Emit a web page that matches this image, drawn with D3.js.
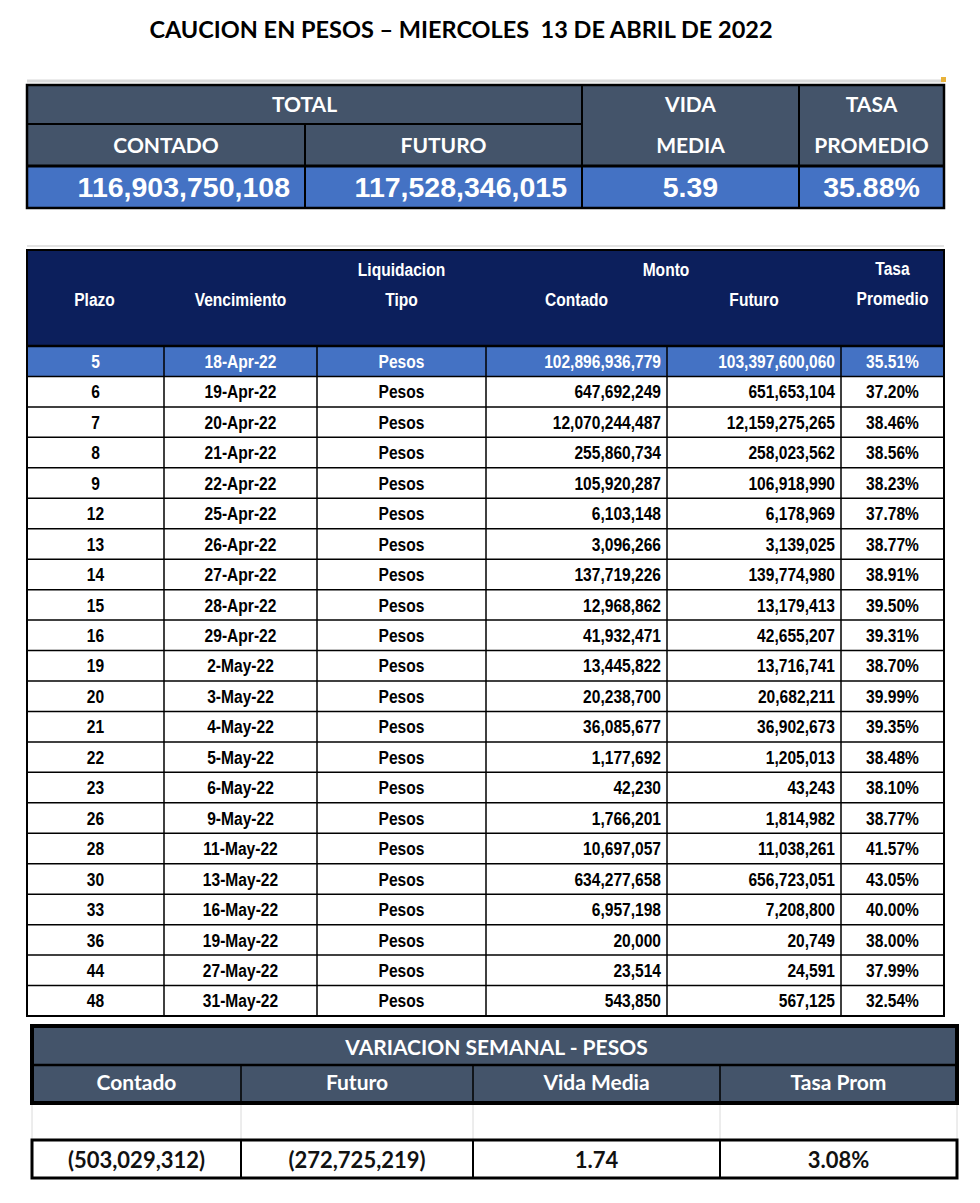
<!DOCTYPE html>
<html>
<head>
<meta charset="utf-8">
<script src="https://cdn.jsdelivr.net/npm/d3@7"></script>
<style>
  body { margin: 0; background: #fff; }
  svg { display: block; }
</style>
</head>
<body>
<svg id="chart" width="980" height="1203"></svg>
<script>
// ---- Data ----
const titleText = "CAUCION EN PESOS \u2013 MIERCOLES  13 DE ABRIL DE 2022";

// summary table
const totalHeaders = ["CONTADO", "FUTURO"];
const totalValues = ["116,903,750,108", "117,528,346,015", "5.39", "35.88%"];

// detail table
const plazo = [5, 6, 7, 8, 9, 12, 13, 14, 15, 16, 19, 20, 21, 22, 23, 26, 28, 30, 33, 36, 44, 48];
const vencimiento = ["18-Apr-22", "19-Apr-22", "20-Apr-22", "21-Apr-22", "22-Apr-22", "25-Apr-22",
  "26-Apr-22", "27-Apr-22", "28-Apr-22", "29-Apr-22", "2-May-22", "3-May-22", "4-May-22",
  "5-May-22", "6-May-22", "9-May-22", "11-May-22", "13-May-22", "16-May-22", "19-May-22",
  "27-May-22", "31-May-22"];
const tipo = plazo.map(() => "Pesos");
const montoContado = [102896936779, 647692249, 12070244487, 255860734, 105920287, 6103148,
  3096266, 137719226, 12968862, 41932471, 13445822, 20238700, 36085677, 1177692, 42230,
  1766201, 10697057, 634277658, 6957198, 20000, 23514, 543850];
const montoFuturo = [103397600060, 651653104, 12159275265, 258023562, 106918990, 6178969,
  3139025, 139774980, 13179413, 42655207, 13716741, 20682211, 36902673, 1205013, 43243,
  1814982, 11038261, 656723051, 7208800, 20749, 24591, 567125];
const tasaPromedio = [35.51, 37.20, 38.46, 38.56, 38.23, 37.78, 38.77, 38.91, 39.50, 39.31,
  38.70, 39.99, 39.35, 38.48, 38.10, 38.77, 41.57, 43.05, 40.00, 38.00, 37.99, 32.54];

// weekly variation table
const variacionHeaders = ["Contado", "Futuro", "Vida Media", "Tasa Prom"];
const variacionValues = ["(503,029,312)", "(272,725,219)", "1.74", "3.08%"];

// ---- Styles ----
const slate = "#44546A";
const navy = "#0C1F5C";
const blue = "#4472C4";
const arial = "'Liberation Sans', Arial, sans-serif";
const calibri = "Lato, 'Open Sans', sans-serif";

const svg = d3.select("#chart");
const fmt = d3.format(",");
const pct = d3.format(".2f");

// Arial Narrow is Arial squeezed to 82%
function narrowText(g, x, y, txt, anchor, size, color) {
  g.append("text")
    .attr("transform", "translate(" + x + "," + y + ") scale(0.82,1)")
    .attr("text-anchor", anchor)
    .attr("dy", "0.35em")
    .style("font-family", arial)
    .style("font-weight", "bold")
    .style("font-size", size + "px")
    .style("fill", color)
    .text(txt);
}

function plainText(g, x, y, txt, family, size, color) {
  return g.append("text")
    .attr("x", x)
    .attr("y", y)
    .attr("dy", "0.35em")
    .attr("text-anchor", "middle")
    .style("font-family", family)
    .style("font-weight", "bold")
    .style("font-size", size + "px")
    .style("fill", color)
    .text(txt);
}

function line(g, x1, y1, x2, y2, w, color) {
  g.append("line")
    .attr("x1", x1).attr("y1", y1).attr("x2", x2).attr("y2", y2)
    .style("stroke", color || "#000")
    .style("stroke-width", w);
}

// ---- Title ----
plainText(svg, 461, 30, titleText, calibri, 23.5, "#000")
  .style("white-space", "pre");

// ---- Summary table ----
let topG = svg.append("g");
let topCols = [27, 305, 582, 799, 944];
let topRows = [85, 124, 166, 208];

// faint sheet gridline above
line(topG, 27, 81, 944, 81, 3, "#DADADA");
topG.append("rect").attr("x", 941).attr("y", 77).attr("width", 5).attr("height", 5).style("fill", "#E8B23A");

topG.append("rect").attr("x", topCols[0]).attr("y", topRows[0])
  .attr("width", topCols[4] - topCols[0]).attr("height", topRows[2] - topRows[0])
  .style("fill", slate);
topG.append("rect").attr("x", topCols[0]).attr("y", topRows[2])
  .attr("width", topCols[4] - topCols[0]).attr("height", topRows[3] - topRows[2])
  .style("fill", blue);

plainText(topG, (topCols[0] + topCols[2]) / 2, 105, "TOTAL", calibri, 21, "#fff");
totalHeaders.forEach(function(h, i) {
  plainText(topG, (topCols[i] + topCols[i + 1]) / 2, 146, h, calibri, 21, "#fff");
});
plainText(topG, (topCols[2] + topCols[3]) / 2, 105, "VIDA", calibri, 21, "#fff");
plainText(topG, (topCols[2] + topCols[3]) / 2, 146, "MEDIA", calibri, 21, "#fff");
plainText(topG, (topCols[3] + topCols[4]) / 2, 105, "TASA", calibri, 21, "#fff");
plainText(topG, (topCols[3] + topCols[4]) / 2, 146, "PROMEDIO", calibri, 21, "#fff");

totalValues.forEach(function(v, i) {
  let right = i < 2;
  topG.append("text")
    .attr("x", right ? topCols[i + 1] - 15 : (topCols[i] + topCols[i + 1]) / 2)
    .attr("y", 187)
    .attr("dy", "0.35em")
    .attr("text-anchor", right ? "end" : "middle")
    .style("font-family", arial)
    .style("font-weight", "bold")
    .style("font-size", "28.5px")
    .style("fill", "#fff")
    .text(v);
});

line(topG, topCols[0], topRows[1], topCols[2], topRows[1], 2);
line(topG, topCols[0], topRows[2], topCols[4], topRows[2], 3);
line(topG, topCols[1], topRows[1], topCols[1], topRows[3], 2);
line(topG, topCols[2], topRows[0], topCols[2], topRows[3], 2);
line(topG, topCols[3], topRows[0], topCols[3], topRows[3], 2);
topG.append("rect").attr("x", topCols[0]).attr("y", topRows[0])
  .attr("width", topCols[4] - topCols[0]).attr("height", topRows[3] - topRows[0])
  .style("fill", "none").style("stroke", "#000").style("stroke-width", 2.5);

// ---- Detail table ----
let main = svg.append("g");
let cols = [27, 164, 317, 486, 667, 841, 944];
let headTop = 250, headBottom = 345;

let y = d3.scaleBand()
  .domain(d3.range(plazo.length))
  .range([346, 1016]);

line(main, 27, 246, 944, 246, 1.5, "#DADADA");

main.append("rect").attr("x", cols[0]).attr("y", headTop)
  .attr("width", cols[6] - cols[0]).attr("height", headBottom - headTop)
  .style("fill", navy);

narrowText(main, (cols[0] + cols[1]) / 2 - 1, 299, "Plazo", "middle", 19, "#fff");
narrowText(main, (cols[1] + cols[2]) / 2, 299, "Vencimiento", "middle", 19, "#fff");
narrowText(main, (cols[2] + cols[3]) / 2, 269, "Liquidacion", "middle", 19, "#fff");
narrowText(main, (cols[2] + cols[3]) / 2, 299, "Tipo", "middle", 19, "#fff");
narrowText(main, cols[4] - 1, 269, "Monto", "middle", 19, "#fff");
narrowText(main, (cols[3] + cols[4]) / 2 - 0, 299, "Contado", "middle", 19, "#fff");
narrowText(main, (cols[4] + cols[5]) / 2, 299, "Futuro", "middle", 19, "#fff");
narrowText(main, (cols[5] + cols[6]) / 2, 268, "Tasa", "middle", 19, "#fff");
narrowText(main, (cols[5] + cols[6]) / 2, 298, "Promedio", "middle", 19, "#fff");

let rows = main.selectAll("g.row")
  .data(d3.range(plazo.length))
  .enter()
  .append("g")
  .attr("class", "row");

rows.append("rect")
  .attr("x", cols[0])
  .attr("y", d => y(d))
  .attr("width", cols[6] - cols[0])
  .attr("height", y.bandwidth())
  .style("fill", d => d === 0 ? blue : "#fff");

rows.each(function(d) {
  let g = d3.select(this);
  let cy = y(d) + y.bandwidth() / 2;
  let color = d === 0 ? "#fff" : "#000";
  narrowText(g, (cols[0] + cols[1]) / 2, cy, plazo[d], "middle", 19, color);
  narrowText(g, (cols[1] + cols[2]) / 2, cy, vencimiento[d], "middle", 19, color);
  narrowText(g, (cols[2] + cols[3]) / 2, cy, tipo[d], "middle", 19, color);
  narrowText(g, cols[4] - 6, cy, fmt(montoContado[d]), "end", 19, color);
  narrowText(g, cols[5] - 6, cy, fmt(montoFuturo[d]), "end", 19, color);
  narrowText(g, (cols[5] + cols[6]) / 2, cy, pct(tasaPromedio[d]) + "%", "middle", 19, color);
});

// grid lines of the detail table
d3.range(1, plazo.length).forEach(function(i) {
  line(main, cols[0], y(i), cols[6], y(i), 1.5);
});
line(main, cols[0], 346, cols[6], 346, 2.5);
cols.slice(1, -1).forEach(function(cx) {
  line(main, cx, 346, cx, 1016, 1.5);
});
main.append("rect").attr("x", cols[0]).attr("y", headTop)
  .attr("width", cols[6] - cols[0]).attr("height", 1016 - headTop)
  .style("fill", "none").style("stroke", "#000").style("stroke-width", 2);

// ---- Weekly variation table ----
let bot = svg.append("g");
let bcols = [32, 241, 473, 720, 957];

bot.append("rect").attr("x", bcols[0]).attr("y", 1026)
  .attr("width", bcols[4] - bcols[0]).attr("height", 1103 - 1026)
  .style("fill", slate);
plainText(bot, (bcols[0] + bcols[4]) / 2 + 2, 1048, "VARIACION SEMANAL - PESOS", calibri, 21, "#fff");
variacionHeaders.forEach(function(h, i) {
  plainText(bot, (bcols[i] + bcols[i + 1]) / 2, 1083, h, calibri, 21, "#fff");
});
line(bot, bcols[0], 1065, bcols[4], 1065, 2.5);
bcols.slice(1, -1).forEach(function(cx) {
  line(bot, cx, 1065, cx, 1103, 1.5);
  line(bot, cx, 1103, cx, 1140, 1, "#DADADA");
});
line(bot, bcols[0], 1103, bcols[0], 1140, 1, "#DADADA");
line(bot, bcols[4], 1103, bcols[4], 1140, 1, "#DADADA");
bot.append("rect").attr("x", bcols[0]).attr("y", 1026)
  .attr("width", bcols[4] - bcols[0]).attr("height", 1103 - 1026)
  .style("fill", "none").style("stroke", "#000").style("stroke-width", 4);

variacionValues.forEach(function(v, i) {
  plainText(bot, (bcols[i] + bcols[i + 1]) / 2, 1160, v, calibri, 22, "#111");
});
bcols.slice(1, -1).forEach(function(cx) {
  line(bot, cx, 1140, cx, 1178, 2);
});
bot.append("rect").attr("x", bcols[0]).attr("y", 1140)
  .attr("width", bcols[4] - bcols[0]).attr("height", 1178 - 1140)
  .style("fill", "none").style("stroke", "#000").style("stroke-width", 3);
</script>
</body>
</html>
